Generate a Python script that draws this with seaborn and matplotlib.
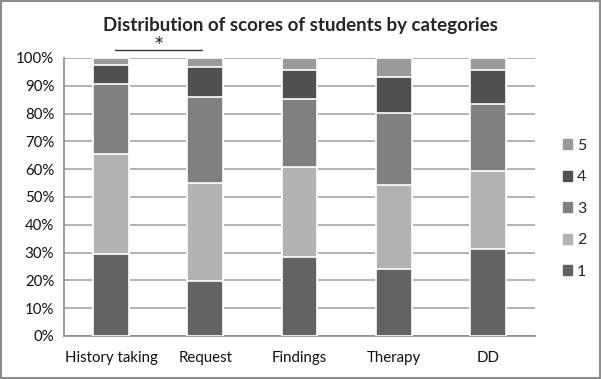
import numpy as np
import pandas as pd
import matplotlib
matplotlib.use("Agg")
import matplotlib.pyplot as plt
import seaborn as sns
from matplotlib.patches import Patch, Rectangle

# dados (% de alunos por nota)
categories = ['History taking', 'Request', 'Findings', 'Therapy', 'DD']
score_1 = [29.5, 19.9, 28.4, 24.0, 31.2]
score_2 = [35.8, 35.2, 32.5, 30.3, 28.3]
score_3 = [25.3, 30.9, 24.4, 25.8, 24.0]
score_4 = [6.9, 10.9, 10.5, 13.2, 12.3]
score_5 = [2.5, 3.1, 4.2, 6.7, 4.2]
levels = ['1', '2', '3', '4', '5']
colors = ['#636363', '#b2b2b2', '#808080', '#505050', '#9a9a9a']

df = pd.DataFrame({'Category': categories, '1': score_1, '2': score_2,
                   '3': score_3, '4': score_4, '5': score_5})
cum = df[levels].cumsum(axis=1)

sns.set_style('white')
plt.rcParams['font.family'] = ['Lato', 'DejaVu Sans']

fig = plt.figure(figsize=(6.01, 3.79), dpi=100)
ax = fig.add_axes([0.1065, 0.1135, 0.7835, 0.7335])

# barras empilhadas: desenhar do topo para baixo
for lev, col in reversed(list(zip(levels, colors))):
    sns.barplot(x=df['Category'], y=cum[lev], color=col, width=0.38,
                edgecolor='white', linewidth=1.2, ax=ax, zorder=3)

ax.set_ylim(0, 100)
ax.set_xlim(-0.5, len(categories) - 0.5)
ax.set_yticks(np.arange(0, 101, 10))
ax.set_yticklabels([f'{v}%' for v in range(0, 101, 10)])
ax.yaxis.grid(True, color='#a6a6a6', linewidth=1.2, zorder=0)
ax.set_axisbelow(True)
ax.set_xlabel('')
ax.set_ylabel('')
for s in ['top', 'right']:
    ax.spines[s].set_visible(False)
for s in ['left', 'bottom']:
    ax.spines[s].set_color('#8c8c8c')
    ax.spines[s].set_linewidth(1.2)
ax.tick_params(axis='y', length=5, color='#8c8c8c', width=1.2, labelsize=10.8,
               pad=2, labelcolor='#111111')
ax.tick_params(axis='x', which='major', length=0, labelsize=10.8, pad=11,
               labelcolor='#111111')
ax.set_xticks(np.arange(-0.5, len(categories)), minor=True)
ax.tick_params(axis='x', which='minor', length=5, color='#8c8c8c', width=1.2)

fig.suptitle('Distribution of scores of students by categories',
             fontsize=13.5, fontweight='bold', y=0.955)

# marca de significância entre as duas primeiras categorias
ax.plot([0.04, 0.97], [102.9, 102.9], color='#333333', lw=1, clip_on=False)
ax.text(0.5, 103.4, '*', ha='center', va='baseline', fontsize=12,
        family='DejaVu Sans', color='#111111', clip_on=False)

handles = [Patch(color=c, label=l) for l, c in zip(levels, colors)][::-1]
fig.legend(handles=handles, loc='center left', bbox_to_anchor=(0.936, 0.449),
           frameon=False, fontsize=11.5, handlelength=0.6, handleheight=0.6,
           handletextpad=0.3, labelspacing=1.1, borderpad=0, borderaxespad=0)

fig.add_artist(Rectangle((0.001, 0.002), 0.997, 0.995, transform=fig.transFigure,
                         fill=False, edgecolor='#8c8c8c', linewidth=1.5))

fig.savefig('out.png', dpi=100)
